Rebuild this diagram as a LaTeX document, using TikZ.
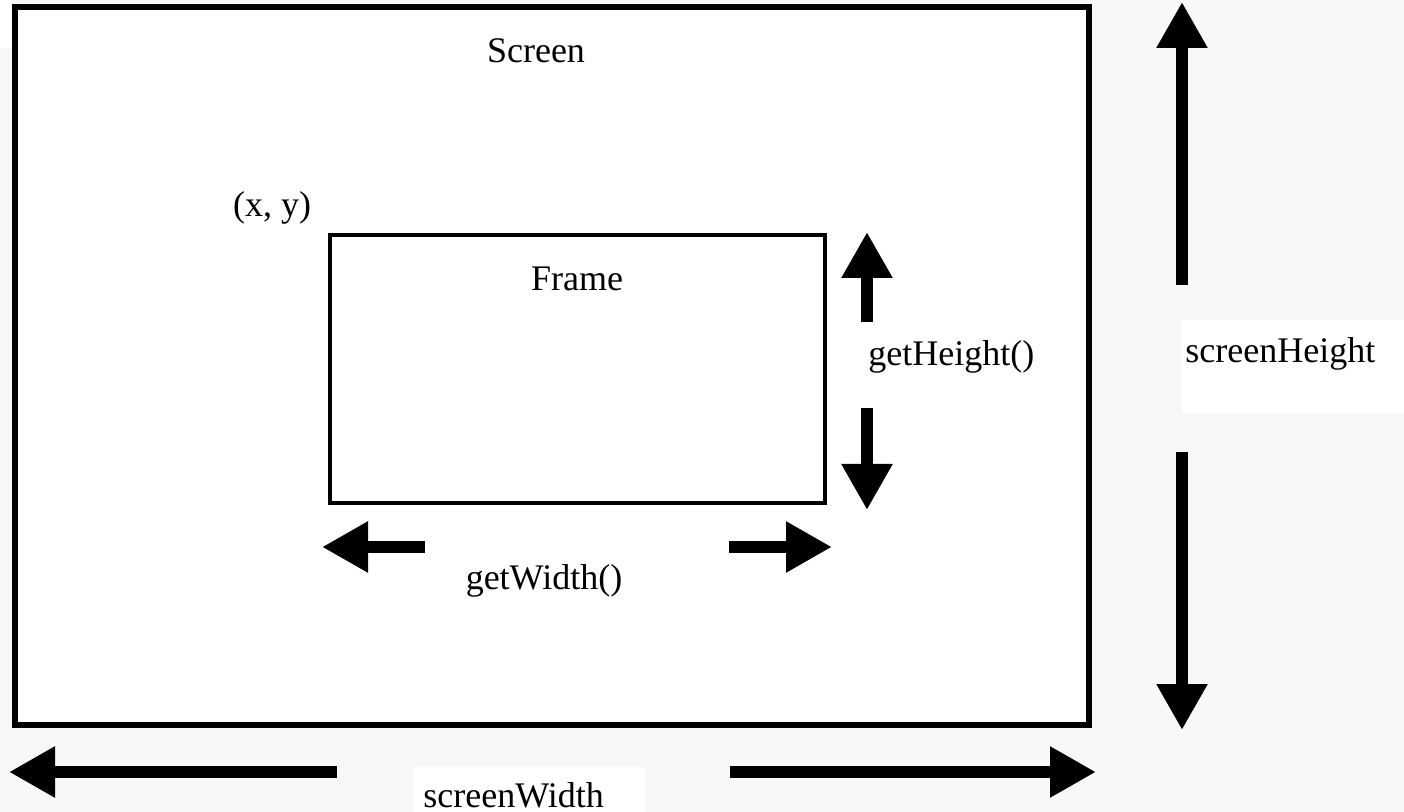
\documentclass[tikz,border=0pt]{standalone}
\usepackage{fontspec}
\setmainfont{Liberation Serif}
\usetikzlibrary{arrows.meta}
\definecolor{pagebg}{RGB}{248,248,248}
\begin{document}
\begin{tikzpicture}[x=0.5pt,y=-0.5pt,
  blockarrow/.style={line width=6pt,-{Triangle[width=24pt,length=23pt]}},
  lbl/.style={inner sep=0pt,font=\fontsize{18pt}{20pt}\selectfont},
  boxline/.style={draw=black,fill=white,line join=miter}]
\useasboundingbox (0,0) rectangle (1404,812);
\fill[pagebg] (0,0) rectangle (1404,812);
\fill[white] (0,0) rectangle (12,48);

% screen and frame outlines
\draw[boxline,line width=3pt] (15,7) rectangle (1089,725);
\draw[boxline,line width=2pt] (330,235) rectangle (825,503);

% white label boxes outside the screen
\fill[white] (1182,320) rectangle (1404,413);
\fill[white] (414,767) rectangle (645,812);

% labels
\node[lbl,anchor=base] (screen) at (536,63) {Screen};
\node[lbl,anchor=base] (xy) at (272,217) {(x, y)};
\node[lbl,anchor=base] (frame) at (577,291) {Frame};
\node[lbl,anchor=base west] (gh) at (868,366) {getHeight()};
\node[lbl,anchor=base] (gw) at (544,589) {getWidth()};
\node[lbl,anchor=base west] (sh) at (1185,363) {screenHeight};
\node[lbl,anchor=base west] (sw) at (423,807) {screenWidth};

% arrow end points
\coordinate (ghUpS) at (867,322);  \coordinate (ghUpT) at (867,232);
\coordinate (ghDnS) at (867,408);  \coordinate (ghDnT) at (867,510);
\coordinate (gwLS) at (425,547);   \coordinate (gwLT) at (322,547);
\coordinate (gwRS) at (729,547);   \coordinate (gwRT) at (832,547);
\coordinate (shUpS) at (1182,285); \coordinate (shUpT) at (1182,2);
\coordinate (shDnS) at (1182,452); \coordinate (shDnT) at (1182,730);
\coordinate (swLS) at (337,772);   \coordinate (swLT) at (9,772);
\coordinate (swRS) at (730,772);   \coordinate (swRT) at (1096,772);

% dimension arrows
\draw[blockarrow] (ghUpS) -- (ghUpT);
\draw[blockarrow] (ghDnS) -- (ghDnT);
\draw[blockarrow] (gwLS) -- (gwLT);
\draw[blockarrow] (gwRS) -- (gwRT);
\draw[blockarrow] (shUpS) -- (shUpT);
\draw[blockarrow] (shDnS) -- (shDnT);
\draw[blockarrow] (swLS) -- (swLT);
\draw[blockarrow] (swRS) -- (swRT);
\end{tikzpicture}
\end{document}
